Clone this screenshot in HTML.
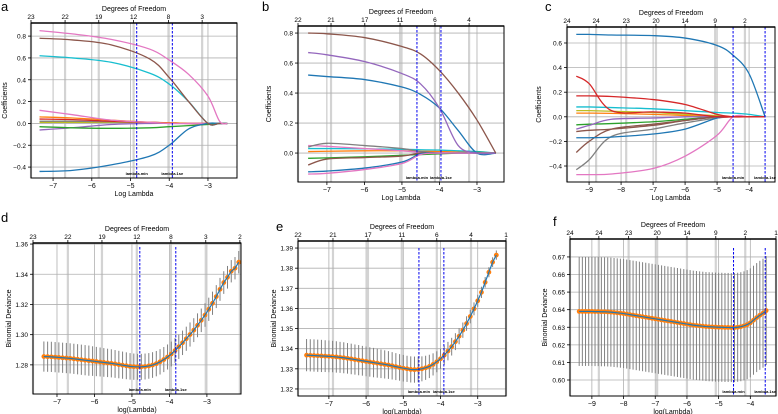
<!DOCTYPE html>
<html><head><meta charset="utf-8">
<style>
html,body{margin:0;padding:0;background:#fff;}
svg{display:block;font-family:"Liberation Sans",sans-serif;}
</style></head>
<body>
<svg id="fig" width="778" height="414" viewBox="0 0 778 414"></svg>
<script>
// ---------- data ----------
const aX = [-7.35,-6.5,-5.5,-4.5,-4,-3.5,-3,-2.7,-2.5];
const aPink  = [0.85,0.82,0.77,0.68,0.58,0.45,0.25,0.02,0];
const aBrown = [0.78,0.765,0.72,0.59,0.42,0.2,0,0,0];
const aCyan  = [0.62,0.6,0.56,0.46,0.36,0.2,0,0,0];
const aBlue  = [-0.44,-0.43,-0.38,-0.3,-0.2,-0.05,0,0,0];
const aPink2 = [0.12,0.08,0.03,0.01,0,0,0,0,0];
const aOrange= [0.06,0.05,0.03,0.01,0.005,0,0,0,0];
const aRed   = [0.04,0.035,0.02,0.01,0.005,0,0,0,0];
const aGreen = [-0.03,-0.04,-0.045,-0.04,-0.03,-0.02,-0.01,0,0];
const aPurple= [-0.06,-0.04,-0.01,0,0,0,0,0,0];
const aGray  = [0.02,0.02,0.015,0.01,0.005,0,0,0,0];
const aOlive = [0.01,0.01,0.01,0.008,0.005,0.003,0.002,0.001,0];
const bX = [-7.5,-7,-6,-5,-4.5,-4,-3.5,-3,-2.5];
const bBrown = [0.8,0.795,0.77,0.71,0.66,0.55,0.4,0.22,0];
const bPurple= [0.67,0.655,0.61,0.53,0.46,0.3,0.05,0,0];
const bBlue  = [0.52,0.51,0.49,0.44,0.39,0.3,0.15,0,0];
const bPink  = [-0.14,-0.135,-0.11,-0.07,-0.01,0,0,0,0];
const bBlue2 = [-0.125,-0.12,-0.1,-0.06,-0.005,0,0,0,0];
const bBrown2= [-0.08,-0.04,-0.03,-0.02,0,0,0,0,0];
const bGreen = [-0.035,-0.032,-0.025,-0.015,-0.01,-0.005,0,0.005,0];
const bGray  = [0.04,0.065,0.05,0.03,0.01,0,0,0,0];
const bCyan  = [0.03,0.03,0.028,0.025,0.022,0.02,0.015,0.01,0];
const bOrange= [0.01,0.012,0.015,0.015,0.012,0.01,0.008,0.005,0];
const bPink3 = [0.05,0.045,0.03,0.015,0.005,0,0,0,0];
const cX = [-9.4,-9,-8.3,-7,-6,-5,-4.5,-4,-3.5];
const cBlue  = [0.67,0.67,0.665,0.66,0.64,0.58,0.5,0.35,0];
const cRed   = [0.33,0.27,0.05,0.04,0.03,0,0,0,0];
const cRed2  = [0.17,0.17,0.165,0.14,0.1,0.02,0,0,0];
const cCyan  = [0.08,0.08,0.075,0.065,0.05,0.035,0.03,0.02,0];
const cPink  = [-0.47,-0.47,-0.465,-0.42,-0.32,-0.15,0,0,0];
const cBlue2 = [-0.17,-0.17,-0.165,-0.14,-0.1,-0.01,0,0,0];
const cBrown = [-0.29,-0.2,-0.1,-0.06,-0.03,0,0,0,0];
const cGray  = [-0.43,-0.35,-0.16,-0.1,-0.05,-0.01,0,0,0];
const cPurple= [-0.1,-0.07,-0.02,-0.01,0,0,0,0,0];
const cGreen = [-0.065,-0.06,-0.055,-0.04,-0.02,0,0,0,0];
const cOlive = [0.05,0.05,0.045,0.035,0.02,0.01,0,0,0];
const cOrange= [0.03,0.03,0.028,0.02,0.01,0,0,0,0];
const cBrown2= [-0.12,-0.11,-0.1,-0.07,-0.03,0,0,0,0];
const dStart=-7.35, dStep=0.1;
const dMean=[1.2855,1.2854,1.2853,1.2851,1.2849,1.2847,1.2845,1.2843,1.2840,1.2837,1.2834,1.2831,1.2828,1.2825,1.2822,1.2819,1.2816,1.2813,1.2810,1.2806,1.2802,1.2798,1.2794,1.2790,1.2788,1.2787,1.2787,1.2789,1.2793,1.2799,1.2808,1.2820,1.2835,1.2852,1.2872,1.2895,1.2920,1.2946,1.2973,1.3001,1.3030,1.3062,1.3095,1.3130,1.3168,1.3208,1.3252,1.3300,1.3345,1.3380,1.3420,1.3440,1.3480];
const dErr=[0.010,0.010,0.010,0.010,0.010,0.010,0.010,0.010,0.010,0.010,0.010,0.010,0.010,0.0098,0.0097,0.0096,0.0095,0.0094,0.0093,0.0092,0.0091,0.0090,0.0089,0.0088,0.0087,0.0086,0.0086,0.0086,0.0085,0.0085,0.0084,0.0084,0.0083,0.0083,0.0082,0.0082,0.0081,0.0081,0.0080,0.0080,0.0079,0.0079,0.0078,0.0078,0.0077,0.0077,0.0076,0.0076,0.0075,0.0075,0.0074,0.0074,0.0074];
const eStart=-7.6, eStep=0.1;
const eMean=[1.3368,1.3367,1.3366,1.3365,1.3364,1.3363,1.3362,1.3361,1.3359,1.3357,1.3355,1.3352,1.3349,1.3346,1.3343,1.3340,1.3337,1.3334,1.3331,1.3328,1.3325,1.3322,1.3319,1.3315,1.3311,1.3307,1.3303,1.3300,1.3297,1.3296,1.3297,1.3300,1.3305,1.3312,1.3322,1.3335,1.3350,1.3368,1.3388,1.3410,1.3435,1.3462,1.3492,1.3525,1.3560,1.3598,1.3638,1.3680,1.3730,1.3780,1.3830,1.3865];
const eErr=[0.008,0.008,0.008,0.008,0.008,0.0079,0.0079,0.0078,0.0078,0.0077,0.0077,0.0076,0.0076,0.0075,0.0075,0.0074,0.0074,0.0073,0.0073,0.0072,0.0071,0.0070,0.0069,0.0068,0.0067,0.0066,0.0066,0.0065,0.0065,0.0065,0.0064,0.0062,0.0060,0.0058,0.0055,0.0052,0.0050,0.0048,0.0046,0.0044,0.0042,0.0040,0.0038,0.0036,0.0034,0.0032,0.0030,0.0028,0.0026,0.0025,0.0024,0.0023];
const fStart=-9.4, fStep=0.1;
const fMean=[0.6390,0.6390,0.6390,0.6390,0.6390,0.6389,0.6389,0.6388,0.6388,0.6387,0.6386,0.6384,0.6382,0.6380,0.6378,0.6375,0.6372,0.6369,0.6366,0.6363,0.6360,0.6357,0.6354,0.6351,0.6348,0.6345,0.6342,0.6339,0.6336,0.6333,0.6330,0.6327,0.6324,0.6321,0.6318,0.6315,0.6312,0.6310,0.6308,0.6306,0.6304,0.6303,0.6302,0.6301,0.6300,0.6300,0.6299,0.6299,0.6298,0.6298,0.6300,0.6303,0.6308,0.6315,0.6325,0.6340,0.6355,0.6368,0.6380,0.6395];
const fErr=[0.031,0.031,0.031,0.031,0.031,0.031,0.031,0.031,0.031,0.031,0.031,0.031,0.031,0.031,0.031,0.031,0.031,0.031,0.031,0.031,0.031,0.031,0.031,0.031,0.031,0.031,0.031,0.031,0.031,0.031,0.031,0.031,0.031,0.031,0.031,0.031,0.031,0.031,0.031,0.031,0.031,0.031,0.031,0.031,0.031,0.031,0.031,0.031,0.031,0.031,0.031,0.031,0.031,0.031,0.031,0.031,0.031,0.031,0.031,0.031];
const aXTicks=[-7,-6,-5,-4,-3]; const aYTicks=[0.8,0.6,0.4,0.2,0.0,-0.2,-0.4];
const bXTicks=[-7,-6,-5,-4,-3]; const bYTicks=[0.8,0.6,0.4,0.2,0.0];
const cXTicks=[-9,-8,-7,-6,-5,-4]; const cYTicks=[0.6,0.4,0.2,0.0,-0.2,-0.4];
const dXTicks=[-7,-6,-5,-4,-3]; const dYTicks=[1.36,1.34,1.32,1.30,1.28];
const eXTicks=[-7,-6,-5,-4,-3]; const eYTicks=[1.39,1.38,1.37,1.36,1.35,1.34,1.33,1.32];
const fXTicks=[-9,-8,-7,-6,-5,-4]; const fYTicks=[0.67,0.66,0.65,0.64,0.63,0.62,0.61,0.60];
const aDf=["23","22","19","12","8","3"]; const aDfAt=[-7.57,-6.69,-5.82,-4.92,-4.02,-3.15];
const bDf=["22","21","17","11","6","4"]; const bDfAt=[-7.77,-6.89,-5.99,-5.05,-4.12,-3.21];
const cDf=["24","24","23","20","14","9","2"]; const cDfAt=[-9.69,-8.78,-7.84,-6.91,-6.0,-5.06,-4.13];
const dDf=["23","22","19","12","8","3","2"]; const dDfAt=[-7.64,-6.71,-5.8,-4.87,-3.96,-3.03,-2.12];
const eDf=["22","21","17","11","6","4","1"]; const eDfAt=[-7.83,-6.89,-5.95,-5.04,-4.1,-3.18,-2.24];
const fDf=["24","24","23","20","14","9","2","1"]; const fDfAt=[-9.69,-8.78,-7.84,-6.94,-6.0,-5.09,-4.16,-3.19];
const aLam=[-4.84,-3.92]; const bLam=[-4.6,-3.96]; const cLam=[-4.5,-3.5];
const dLam=[-4.79,-3.83]; const eLam=[-4.58,-3.91]; const fLam=[-4.53,-3.53];

// ---------- drawing ----------
const NS="http://www.w3.org/2000/svg";
const svg=document.getElementById('fig');
function mk(tag,attrs,parent,text){const e=document.createElementNS(NS,tag);for(const k in attrs)e.setAttribute(k,attrs[k]);if(text!==undefined)e.textContent=text;(parent||svg).appendChild(e);return e;}
const C={blue:'#1f77b4',orange:'#ff7f0e',green:'#2ca02c',red:'#d62728',purple:'#9467bd',brown:'#8c564b',pink:'#e377c2',gray:'#7f7f7f',olive:'#bcbd22',cyan:'#17becf'};
function smoothPath(pts){
  let d='M'+pts[0][0]+','+pts[0][1];
  for(let i=0;i<pts.length-1;i++){
    const p0=pts[i-1]||pts[i],p1=pts[i],p2=pts[i+1],p3=pts[i+2]||p2;
    const c1=[p1[0]+(p2[0]-p0[0])/6,p1[1]+(p2[1]-p0[1])/6];
    const c2=[p2[0]-(p3[0]-p1[0])/6,p2[1]-(p3[1]-p1[1])/6];
    d+=` C${c1[0]},${c1[1]} ${c2[0]},${c2[1]} ${p2[0]},${p2[1]}`;
  }
  return d;
}
function panel(p){
  const g=mk('g',{});
  
  
  const sx=v=>p.x0+(v-p.xd[0])/(p.xd[1]-p.xd[0])*(p.x1-p.x0);
  const sy=v=>p.y1-(v-p.yd[0])/(p.yd[1]-p.yd[0])*(p.y1-p.y0);
  p.xt.forEach(t=>{const l=mk('line',{x1:sx(t),x2:sx(t),y1:p.y0,y2:p.y1,stroke:'#b0b0b0','stroke-width':0.8},g);});
  p.df.forEach((d,i)=>{const l=mk('line',{x1:sx(p.dfAt[i]),x2:sx(p.dfAt[i]),y1:p.y0,y2:p.y1,stroke:'#d3d3d3','stroke-width':2.2},g);});
  p.yt.forEach(t=>{const l=mk('line',{x1:p.x0,x2:p.x1,y1:sy(t),y2:sy(t),stroke:'#b0b0b0','stroke-width':0.8},g);});
  p.draw(g,sx,sy);
  p.lam.forEach((v,i)=>{
    const l=mk('line',{x1:sx(v),x2:sx(v),y1:p.lamTop||p.y0,y2:p.y1,stroke:'#0000ee','stroke-width':1,'stroke-dasharray':'2.5,1.5'},g);
    
    
    const t=mk('text',{x:sx(v),y:p.y1-3,'font-size':4,'text-anchor':'middle',fill:'#000','font-weight':'bold'},g,i?'lambda.1se':'lambda.min');
    
    
  });
  const r=mk('rect',{x:p.x0,y:p.y0,width:p.x1-p.x0,height:p.y1-p.y0,fill:'none',stroke:'#000','stroke-width':1},g);
  
  mk('line',{x1:p.x0,x2:p.x1,y1:p.y0,y2:p.y0,stroke:'#000','stroke-width':1.6},g);
  p.xt.forEach(t=>{
    mk('line',{x1:sx(t),x2:sx(t),y1:p.y1,y2:p.y1+3,stroke:'#000','stroke-width':0.8},g);
    const tx=mk('text',{x:sx(t),y:p.y1+10,'font-size':7,'text-anchor':'middle'},g,'\u2212'+Math.abs(t));
    
  });
  p.yt.forEach(t=>{
    mk('line',{x1:p.x0-3,x2:p.x0,y1:sy(t),y2:sy(t),stroke:'#000','stroke-width':0.8},g);
    let s=t.toFixed(p.yd_dec); if(t<0)s='\u2212'+s.slice(1);
    const tx=mk('text',{x:p.x0-5,y:sy(t)+2.5,'font-size':6.5,'text-anchor':'end'},g,s);
    
  });
  p.df.forEach((d,i)=>{
    mk('line',{x1:sx(p.dfAt[i]),x2:sx(p.dfAt[i]),y1:p.y0-3,y2:p.y0,stroke:'#000','stroke-width':0.8},g);
    const tx=mk('text',{x:sx(p.dfAt[i]),y:p.y0-4,'font-size':6.5,'text-anchor':'middle'},g,d);
    
  });
  const tt=mk('text',{x:(p.x0+p.x1)/2,y:p.y0-12,'font-size':7,'text-anchor':'middle'},g,'Degrees of Freedom');
  
  const xt=mk('text',{x:(p.x0+p.x1)/2,y:p.y1+18,'font-size':7,'text-anchor':'middle'},g,p.xl);
  
  const yx=p.ylx, yy=(p.y0+p.y1)/2;
  const yt=mk('text',{x:yx,y:yy,'font-size':7,'text-anchor':'middle',transform:`rotate(-90 ${yx} ${yy})`},g,p.yl);
  
  const pl=mk('text',{x:p.lx,y:p.ly,'font-size':13},g,p.letter);
  
}
function coefDraw(xs,series){
  return (g,sx,sy)=>{series.forEach(([vals,col])=>{
    const pts=vals.map((v,i)=>[sx(xs[i]),sy(v)]);
    const pl=mk('path',{d:smoothPath(pts),fill:'none',stroke:col,'stroke-width':1.3},g);
    
  });};
}
function cvDraw(start,step,mean,err){
  return (g,sx,sy)=>{
    mean.forEach((m,i)=>{const x=sx(start+i*step);
      const l=mk('line',{x1:x,x2:x,y1:sy(m-err[i]),y2:sy(m+err[i]),stroke:'#808080','stroke-width':1},g);
      });
    mean.forEach((m,i)=>{
      const c=mk('circle',{cx:sx(start+i*step),cy:sy(m),r:2.4,fill:C.orange},g);
      });
    const pts=mean.map((m,i)=>sx(start+i*step)+','+sy(m)).join(' ');
    const pl=mk('polyline',{points:pts,fill:'none',stroke:C.blue,'stroke-width':1.2},g);
    
  };
}
panel({name:'panel-a',letter:'a',lx:1,ly:11,x0:31,x1:237,y0:23,y1:178,xd:[-7.57,-2.25],yd:[-0.5,0.92],yd_dec:1,
  xt:aXTicks,yt:aYTicks,df:aDf,dfAt:aDfAt,lam:aLam,xl:'Log Lambda',yl:'Coefficients',ylx:7,
  draw:coefDraw(aX,[[aOlive,C.olive],[aGray,C.gray],[aPurple,C.purple],[aRed,C.red],[aOrange,C.orange],[aPink2,C.pink],[aGreen,C.green],[aBlue,C.blue],[aCyan,C.cyan],[aBrown,C.brown],[aPink,C.pink]])});
panel({name:'panel-b',letter:'b',lx:262,ly:11,x0:298,x1:504,y0:26,y1:182,xd:[-7.77,-2.28],yd:[-0.193,0.847],yd_dec:1,
  xt:bXTicks,yt:bYTicks,df:bDf,dfAt:bDfAt,lam:bLam,xl:'Log Lambda',yl:'Coefficients',ylx:271,
  draw:coefDraw(bX,[[bOrange,C.orange],[bCyan,C.cyan],[bPink3,C.pink],[bGray,C.gray],[bGreen,C.green],[bBrown2,C.brown],[bBlue2,C.blue],[bPink,C.pink],[bBlue,C.blue],[bPurple,C.purple],[bBrown,C.brown]])});
panel({name:'panel-c',letter:'c',lx:545,ly:11,x0:567,x1:775,y0:27,y1:182,xd:[-9.69,-3.19],yd:[-0.53,0.73],yd_dec:1,
  xt:cXTicks,yt:cYTicks,df:cDf,dfAt:cDfAt,lam:cLam,xl:'Log Lambda',yl:'Coefficients',ylx:541,
  draw:coefDraw(cX,[[cOrange,C.orange],[cOlive,C.olive],[cGreen,C.green],[cPurple,C.purple],[cBrown2,C.brown],[cGray,C.gray],[cBrown,C.brown],[cBlue2,C.blue],[cPink,C.pink],[cCyan,C.cyan],[cRed2,C.red],[cRed,C.red],[cBlue,C.blue]])});
panel({name:'panel-d',letter:'d',lx:1,ly:222,x0:33,x1:241,y0:243,y1:394,xd:[-7.64,-2.09],yd:[1.2607,1.3607],yd_dec:2,
  xt:dXTicks,yt:dYTicks,df:dDf,dfAt:dDfAt,lam:dLam,lamTop:247,xl:'log(Lambda)',yl:'Binomial Deviance',ylx:11,
  draw:cvDraw(dStart,dStep,dMean,dErr)});
panel({name:'panel-e',letter:'e',lx:276,ly:231,x0:298,x1:506,y0:241,y1:396,xd:[-7.83,-2.24],yd:[1.3165,1.3935],yd_dec:2,
  xt:eXTicks,yt:eYTicks,df:eDf,dfAt:eDfAt,lam:eLam,lamTop:248,xl:'log(Lambda)',yl:'Binomial Deviance',ylx:276,
  draw:cvDraw(eStart,eStep,eMean,eErr)});
panel({name:'panel-f',letter:'f',lx:553,ly:226,x0:570,x1:776,y0:239,y1:396,xd:[-9.69,-3.19],yd:[0.5909,0.6802],yd_dec:2,
  xt:fXTicks,yt:fYTicks,df:fDf,dfAt:fDfAt,lam:fLam,lamTop:248,xl:'log(Lambda)',yl:'Binomial Deviance',ylx:547,
  draw:cvDraw(fStart,fStep,fMean,fErr)});
</script>
</body></html>
